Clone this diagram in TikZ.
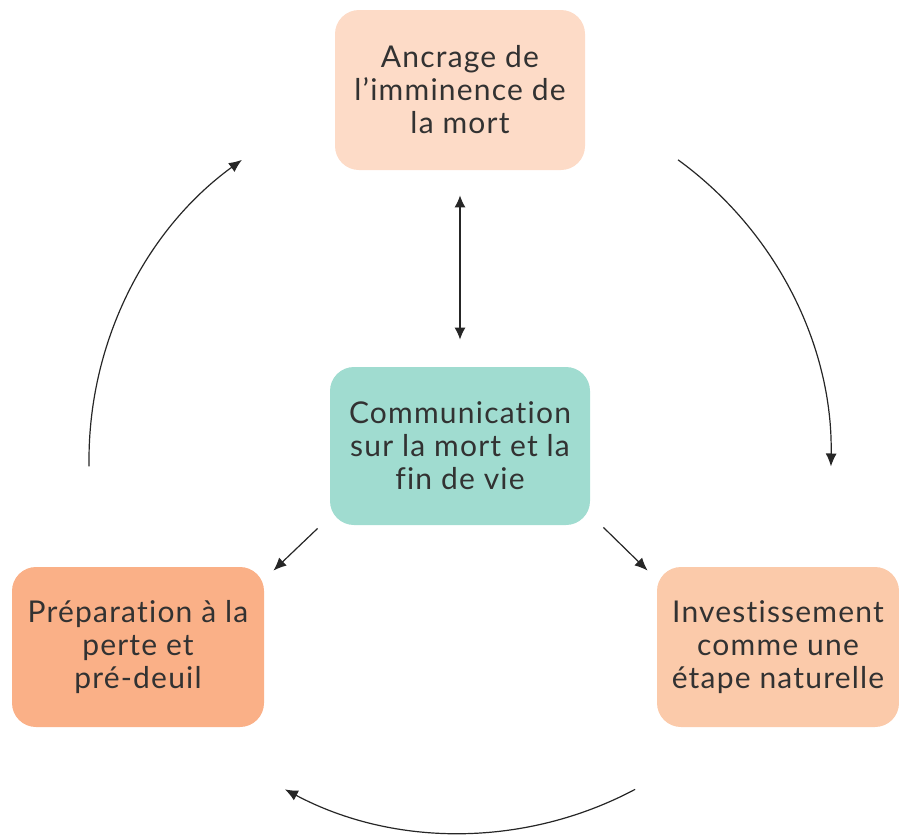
\documentclass[tikz,border=0pt]{standalone}
\usepackage{fontspec}
\setmainfont{Lato}[LetterSpace=4, Ligatures=NoCommon]
\usepackage{xcolor}
\usepackage{tikz}
\usetikzlibrary{arrows.meta, positioning, calc}

\definecolor{peachlight}{RGB}{253,219,199}
\definecolor{peachmid}{RGB}{251,202,170}
\definecolor{peachdark}{RGB}{250,176,135}
\definecolor{tealsoft}{RGB}{160,220,208}
\definecolor{inkgray}{RGB}{50,50,50}

\begin{document}
\begin{tikzpicture}[
    x=0.5pt, y=0.5pt,
    theme/.style={rectangle, rounded corners=12pt, draw=none, minimum width=125pt, minimum height=80pt, align=center, text=inkgray, font=\fontsize{15}{16.5}\selectfont},
    core/.style={theme, fill=tealsoft, minimum width=130pt, minimum height=79pt},
    arrow/.style={-{Latex[length=6.5pt, width=5.5pt]}, line width=0.6pt, black!85}
]
\useasboundingbox (0,0) rectangle (899,-836);

\node[theme, fill=peachlight] (ancrage) at (460,-90) {Ancrage de\\l’imminence de\\la mort};
\node[core] (comm) at (460,-446) {Communication\\sur la mort et la\\fin de vie};
\node[theme, fill=peachdark, minimum width=126pt] (prep) at (138,-647) {Préparation à la\\perte et\\pré-deuil};
\node[theme, fill=peachmid, minimum width=121pt] (invest) at (778,-647) {Investissement\\comme une\\étape naturelle};
\coordinate (ring) at (460,-460);

\draw[arrow, {Latex[length=6pt, width=5.5pt]}-{Latex[length=6pt, width=5.5pt]}, shorten <=12.5pt, shorten >=13.5pt] (ancrage) -- (comm);
\draw[arrow] ([shift={(-12,-3)}]comm.south west) -- ([shift={(9,-4)}]prep.north east);
\draw[arrow] ([shift={(13,-2)}]comm.south east) -- ([shift={(-9,-4)}]invest.north west);

% cycle around the centre
\draw[arrow] ([shift={(181:371)}]ring) arc[start angle=181, end angle=126, radius=371];
\draw[arrow] ([shift={(54:371)}]ring) arc[start angle=54, end angle=-1, radius=371];
\draw[arrow] ([shift={(-62:373)}]ring) arc[start angle=-62, end angle=-118, radius=373];
\end{tikzpicture}
\end{document}
